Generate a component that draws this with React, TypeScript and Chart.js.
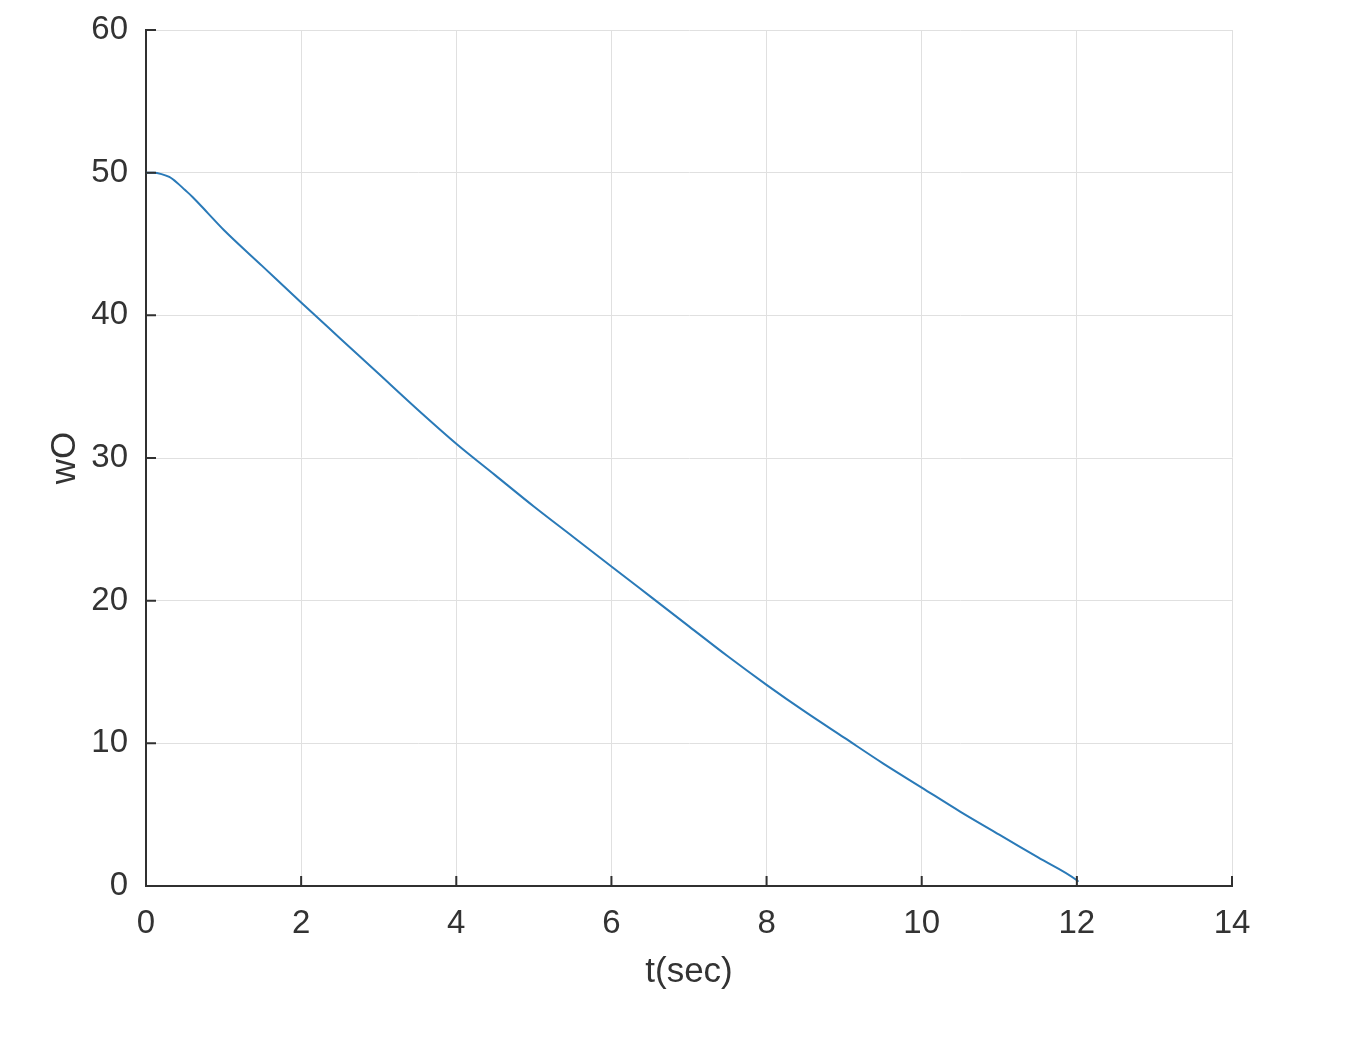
import React, { useEffect, useRef } from "react";
import { Chart, registerables } from "chart.js";

Chart.register(...registerables);

const tValues: number[] = [0, 0.1, 0.2, 0.3, 0.4, 0.5, 0.6, 0.8, 1, 1.5, 2, 2.5, 3, 3.5, 4, 4.5, 5, 5.5, 6, 6.5, 7, 7.5, 8, 8.5, 9, 9.5, 10, 10.5, 11, 11.5, 12, 12.02];
const wOValues: number[] = [50.0, 50.0, 49.9, 49.7, 49.3, 48.8, 48.3, 47.15, 46.0, 43.45, 40.9, 38.4, 35.9, 33.4, 31.0, 28.8, 26.6, 24.5, 22.4, 20.3, 18.2, 16.1, 14.1, 12.2, 10.4, 8.6, 6.9, 5.2, 3.6, 2.0, 0.4, 0.3];
const xTicks: number[] = [0, 2, 4, 6, 8, 10, 12, 14];
const yTicks: number[] = [0, 10, 20, 30, 40, 50, 60];
const xLabel = "t(sec)";
const yLabel = "wO";

const AXIS_COLOR = "#303030";
const TEXT_COLOR = "#333333";
const GRID_COLOR = "#e0e0e0";
const LINE_COLOR = "#2a7ab8";
const FONT = "'Liberation Sans', Arial, sans-serif";

const inwardTicks = {
  id: "inwardTicks",
  afterDraw(chart: any) {
    const ctx = chart.ctx;
    const { left, bottom } = chart.chartArea;
    const xs = chart.scales.x;
    const ys = chart.scales.y;
    ctx.save();
    ctx.strokeStyle = AXIS_COLOR;
    ctx.lineWidth = 2;
    ctx.beginPath();
    for (const v of xTicks) {
      const px = xs.getPixelForValue(v);
      ctx.moveTo(px, bottom);
      ctx.lineTo(px, bottom - 10);
    }
    for (const v of yTicks) {
      const py = ys.getPixelForValue(v);
      ctx.moveTo(left, py);
      ctx.lineTo(left + 10, py);
    }
    ctx.stroke();
    ctx.restore();
  },
};

export default function App() {
  const ref = useRef<HTMLCanvasElement | null>(null);
  useEffect(() => {
    document.body.style.margin = "0";
    const canvas = ref.current;
    if (!canvas) return;
    const data = tValues.map((t, i) => ({ x: t, y: wOValues[i] }));
    const chart = new Chart(canvas, {
      type: "line",
      data: {
        datasets: [
          {
            data,
            borderColor: LINE_COLOR,
            borderWidth: 2,
            pointRadius: 0,
            cubicInterpolationMode: "monotone",
            fill: false,
          },
        ],
      },
      options: {
        responsive: false,
        animation: false,
        layout: { padding: { left: 0, top: 30, right: 136, bottom: 0 } },
        plugins: { legend: { display: false }, tooltip: { enabled: false } },
        scales: {
          x: {
            type: "linear",
            min: 0,
            max: 14,
            afterBuildTicks: (scale: any) => {
              scale.ticks = xTicks.map((v) => ({ value: v }));
            },
            afterFit: (scale: any) => {
              scale.height = 154;
              scale.paddingLeft = 0;
              scale.paddingRight = 0;
            },
            ticks: {
              color: TEXT_COLOR,
              font: { family: FONT, size: 33 },
              padding: 18,
              maxRotation: 0,
            },
            grid: { color: GRID_COLOR, lineWidth: 1, drawTicks: false, tickLength: 0 },
            border: { display: true, color: AXIS_COLOR, width: 2 },
            title: {
              display: true,
              text: xLabel,
              color: TEXT_COLOR,
              font: { family: FONT, size: 35 },
              padding: { top: 47, bottom: 47 },
            },
          },
          y: {
            type: "linear",
            min: 0,
            max: 60,
            afterBuildTicks: (scale: any) => {
              scale.ticks = yTicks.map((v) => ({ value: v }));
            },
            afterFit: (scale: any) => {
              scale.width = 146;
              scale.paddingTop = 0;
              scale.paddingBottom = 0;
            },
            ticks: {
              color: TEXT_COLOR,
              font: { family: FONT, size: 33 },
              padding: 18,
            },
            grid: { color: GRID_COLOR, lineWidth: 1, drawTicks: false, tickLength: 0 },
            border: { display: true, color: AXIS_COLOR, width: 2 },
            title: {
              display: true,
              text: yLabel,
              color: TEXT_COLOR,
              font: { family: FONT, size: 35 },
              padding: { top: 44, bottom: 44 },
            },
          },
        },
      },
      plugins: [inwardTicks],
    } as any);
    return () => chart.destroy();
  }, []);
  return (
    <div style={{ width: 1368, height: 1040, background: "#ffffff" }}>
      <canvas ref={ref} width={1368} height={1040} style={{ display: "block" }} />
    </div>
  );
}
